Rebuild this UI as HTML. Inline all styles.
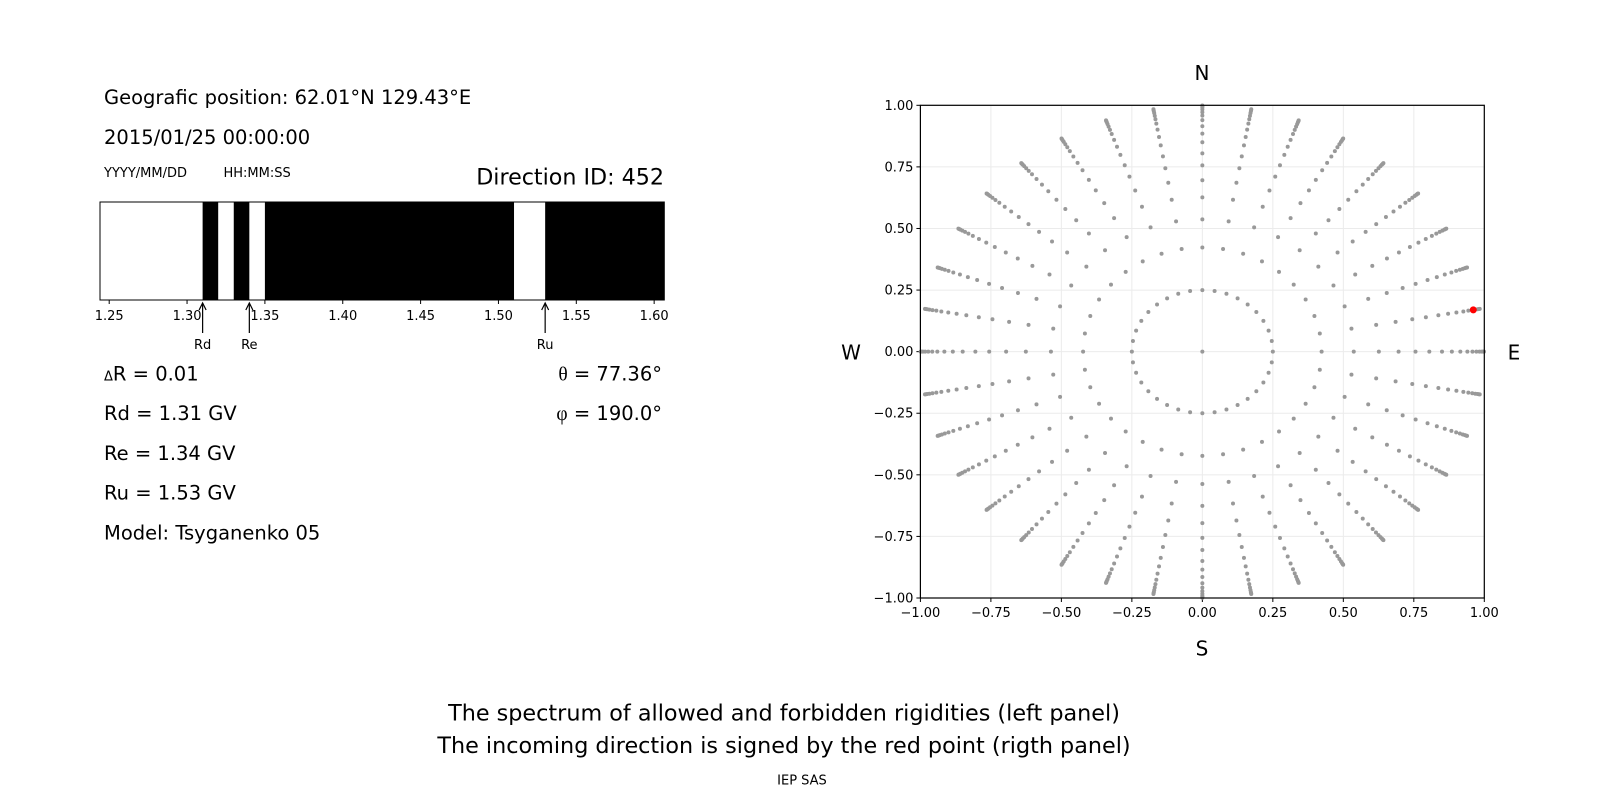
<!DOCTYPE html>
<html><head><meta charset="utf-8"><style>
html,body{margin:0;padding:0;background:#fff;}
svg{display:block;font-family:"DejaVu Sans","Liberation Sans",sans-serif;}
</style></head><body>
<svg id="s" width="1600" height="800" viewBox="0 0 1600 800" xmlns="http://www.w3.org/2000/svg">
<rect width="1600" height="800" fill="#fff"/>
<text x="104" y="104" font-size="19.5">Geografic position: 62.01°N 129.43°E</text>
<text x="104" y="144" font-size="19.5">2015/01/25 00:00:00</text>
<text x="104" y="177" font-size="13">YYYY/MM/DD</text>
<text x="223.5" y="177" font-size="13">HH:MM:SS</text>
<text x="664" y="184.5" font-size="22.2" text-anchor="end">Direction ID: 452</text>
<g id="bar"></g>
<text x="104" y="380.5" font-size="19.5"><tspan font-size="13">Δ</tspan>R = 0.01</text>
<text x="104" y="420" font-size="19.5">Rd = 1.31 GV</text>
<text x="104" y="460" font-size="19.5">Re = 1.34 GV</text>
<text x="104" y="499.5" font-size="19.5">Ru = 1.53 GV</text>
<text x="104" y="539.5" font-size="19.5">Model: Tsyganenko 05</text>
<text x="662" y="380.5" font-size="19.5" text-anchor="end"><tspan font-family="Liberation Serif,serif">θ</tspan> = 77.36°</text>
<text x="662" y="420" font-size="19.5" text-anchor="end"><tspan font-family="Liberation Serif,serif">φ</tspan> = 190.0°</text>
<g id="pol"></g>
<text x="1202" y="80" font-size="20" text-anchor="middle">N</text>
<text x="1202" y="655.5" font-size="20" text-anchor="middle">S</text>
<text x="851" y="359.5" font-size="20" text-anchor="middle">W</text>
<text x="1514" y="359.5" font-size="20" text-anchor="middle">E</text>
<text x="784" y="720.5" font-size="22.3" text-anchor="middle">The spectrum of allowed and forbidden rigidities (left panel)</text>
<text x="784" y="753" font-size="22.3" text-anchor="middle">The incoming direction is signed by the red point (rigth panel)</text>
<text x="802" y="784.5" font-size="13" text-anchor="middle">IEP SAS</text>
</svg>
<script>
var NS="http://www.w3.org/2000/svg";
function el(p,t,a,txt){var e=document.createElementNS(NS,t);for(var k in a)e.setAttribute(k,a[k]);if(txt!==undefined)e.textContent=txt;p.appendChild(e);return e;}
var b=document.getElementById("bar");
var X0=100,X1=664.3,Y0=202,Y1=300;
function rx(v){return 109.2+(v-1.25)*1557;}
[[1.31,1.32],[1.33,1.34],[1.35,1.51],[1.53,1.62]].forEach(function(s){
 var a=rx(s[0]),c=Math.min(rx(s[1]),X1);el(b,"rect",{x:a,y:Y0,width:c-a,height:Y1-Y0,fill:"#000"});});
el(b,"rect",{x:X0,y:Y0,width:X1-X0,height:Y1-Y0,fill:"none",stroke:"#000","stroke-width":1});
[1.25,1.30,1.35,1.40,1.45,1.50,1.55,1.60].forEach(function(v){var x=rx(v);
 el(b,"line",{x1:x,y1:Y1,x2:x,y2:Y1+4,stroke:"#000"});
 el(b,"text",{x:x,y:320,"font-size":13,"text-anchor":"middle"},v.toFixed(2));});
[[1.31,"Rd"],[1.34,"Re"],[1.53,"Ru"]].forEach(function(a){var x=rx(a[0]);
 el(b,"line",{x1:x,y1:304,x2:x,y2:333,stroke:"#000","stroke-width":1.2});
 el(b,"path",{d:"M"+(x-3.5)+" 310 L"+x+" 303 L"+(x+3.5)+" 310",fill:"none",stroke:"#000","stroke-width":1.2});
 el(b,"text",{x:x,y:349,"font-size":13,"text-anchor":"middle"},a[1]);});
var p=document.getElementById("pol");
var L=920.4,R=1484.3,T=105.3,B=598,cx=(L+R)/2,cy=(T+B)/2,hw=(R-L)/2,hh=(B-T)/2;
function px(v){return cx+v*hw;}function py(v){return cy-v*hh;}
var ticks=[-1,-0.75,-0.5,-0.25,0,0.25,0.5,0.75,1];
ticks.forEach(function(v){
 el(p,"line",{x1:px(v),y1:T,x2:px(v),y2:B,stroke:"#ebebeb","stroke-width":1});
 el(p,"line",{x1:L,y1:py(v),x2:R,y2:py(v),stroke:"#ebebeb","stroke-width":1});
 el(p,"line",{x1:px(v),y1:B,x2:px(v),y2:B+4,stroke:"#000"});
 el(p,"line",{x1:L-4,y1:py(v),x2:L,y2:py(v),stroke:"#000"});
 var s=v.toFixed(2).replace("-","\u2212");
 el(p,"text",{x:px(v),y:617,"font-size":13,"text-anchor":"middle"},s);
 el(p,"text",{x:L-7,y:py(v)+4.5,"font-size":13,"text-anchor":"end"},s);});
var radii=[0.423,0.537,0.626,0.696,0.756,0.805,0.85,0.885,0.915,0.94,0.958,0.972,0.983,0.991,0.996,0.999];
var g=el(p,"g",{fill:"#999"});
el(g,"circle",{cx:cx,cy:cy,r:2});
for(var k=0;k<36;k++){var a=k*Math.PI/18,c=Math.cos(a),s=Math.sin(a);
 el(g,"circle",{cx:px(0.25*c),cy:py(0.25*s),r:2});
 radii.forEach(function(r){el(g,"circle",{cx:px(r*c),cy:py(r*s),r:2});});}
el(p,"rect",{x:L,y:T,width:R-L,height:B-T,fill:"none",stroke:"#000","stroke-width":1.2});
var rr=Math.sin(77.36*Math.PI/180),aa=10*Math.PI/180;
el(p,"circle",{cx:px(rr*Math.cos(aa)),cy:py(rr*Math.sin(aa)),r:3.5,fill:"#f00"});
</script>
</body></html>
